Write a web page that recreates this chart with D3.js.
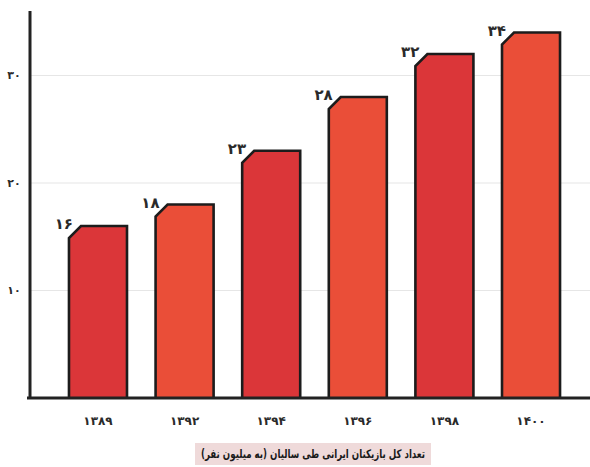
<!DOCTYPE html>
<html>
<head>
<meta charset="utf-8">
<script src="https://cdn.jsdelivr.net/npm/d3@7"></script>
<style>
  body { margin: 0; background: #fff; }
  svg text { font-family: "DejaVu Sans", "Noto Sans", sans-serif; font-weight: bold; fill: #2a2a2a; }
</style>
</head>
<body>
<svg id="chart" width="590" height="467"></svg>
<script>
// data
const years   = ["۱۳۸۹", "۱۳۹۲", "۱۳۹۴", "۱۳۹۶", "۱۳۹۸", "۱۴۰۰"];
const players = [16, 18, 23, 28, 32, 34];
const valueLabels = ["۱۶", "۱۸", "۲۳", "۲۸", "۳۲", "۳۴"];
const yTicks  = [10, 20, 30];
const yTickLabels = ["۱۰", "۲۰", "۳۰"];
const barColors = ["#db3639", "#ea4e38"];
const caption = "تعداد کل بازیکنان ایرانی طی سالیان (به میلیون نفر)";

const svg = d3.select("#chart");
const W = 590;
const left = 30, baseY = 398, topY = 11;

// scales
const x = d3.scaleBand()
  .domain(years)
  .range([left, 599])
  .paddingInner(0.33)
  .paddingOuter(0.45);

const y = d3.scaleLinear()
  .domain([0, 36])
  .range([baseY, topY]);

// gridlines
svg.append("g")
  .selectAll("line")
  .data(yTicks)
  .join("line")
    .attr("x1", left).attr("x2", W)
    .attr("y1", d => y(d)).attr("y2", d => y(d))
    .attr("stroke", "#e6e6e6")
    .attr("stroke-width", 1.2);

// y tick labels
svg.append("g")
  .selectAll("text")
  .data(yTicks)
  .join("text")
    .attr("x", 14)
    .attr("y", d => y(d))
    .attr("dy", "0.35em")
    .attr("text-anchor", "middle")
    .attr("font-size", 11)
    .text((d, i) => yTickLabels[i]);

// bars with chamfered top-left corner
const cut = 12;
function barPath(d, i) {
  const x0 = x(years[i]), x1 = x0 + x.bandwidth();
  const y0 = y(d), y1 = baseY;
  return `M${x0},${y1} L${x0},${y0 + cut} L${x0 + cut},${y0} L${x1},${y0} L${x1},${y1}`;
}

svg.append("g")
  .selectAll("path")
  .data(players)
  .join("path")
    .attr("d", barPath)
    .attr("fill", (d, i) => barColors[i % 2])
    .attr("stroke", "#1c1c1c")
    .attr("stroke-width", 2.6)
    .attr("stroke-linejoin", "miter");

// value labels, top-left of each bar
svg.append("g")
  .selectAll("text")
  .data(players)
  .join("text")
    .attr("x", (d, i) => x(years[i]) + 4)
    .attr("y", d => y(d) + 3)
    .attr("text-anchor", "end")
    .attr("font-size", 15)
    .text((d, i) => valueLabels[i]);

// axes lines
svg.append("line")
  .attr("x1", left).attr("x2", left)
  .attr("y1", topY).attr("y2", baseY + 1)
  .attr("stroke", "#222").attr("stroke-width", 3);

svg.append("line")
  .attr("x1", 27).attr("x2", W)
  .attr("y1", baseY).attr("y2", baseY)
  .attr("stroke", "#222").attr("stroke-width", 3);

// x tick labels
svg.append("g")
  .selectAll("text")
  .data(years)
  .join("text")
    .attr("x", d => x(d) + x.bandwidth() / 2)
    .attr("y", 421)
    .attr("dy", "0.35em")
    .attr("text-anchor", "middle")
    .attr("font-size", 12)
    .text(d => d);

// caption box
svg.append("rect")
  .attr("x", 195).attr("y", 443)
  .attr("width", 236).attr("height", 22)
  .attr("fill", "#efdada");

svg.append("text")
  .attr("x", 313).attr("y", 454)
  .attr("dy", "0.35em")
  .attr("text-anchor", "middle")
  .attr("direction", "rtl")
  .attr("font-size", 12)
  .attr("textLength", 224)
  .attr("lengthAdjust", "spacingAndGlyphs")
  .style("fill", "#1a1a1a")
  .text(caption);
</script>
</body>
</html>
